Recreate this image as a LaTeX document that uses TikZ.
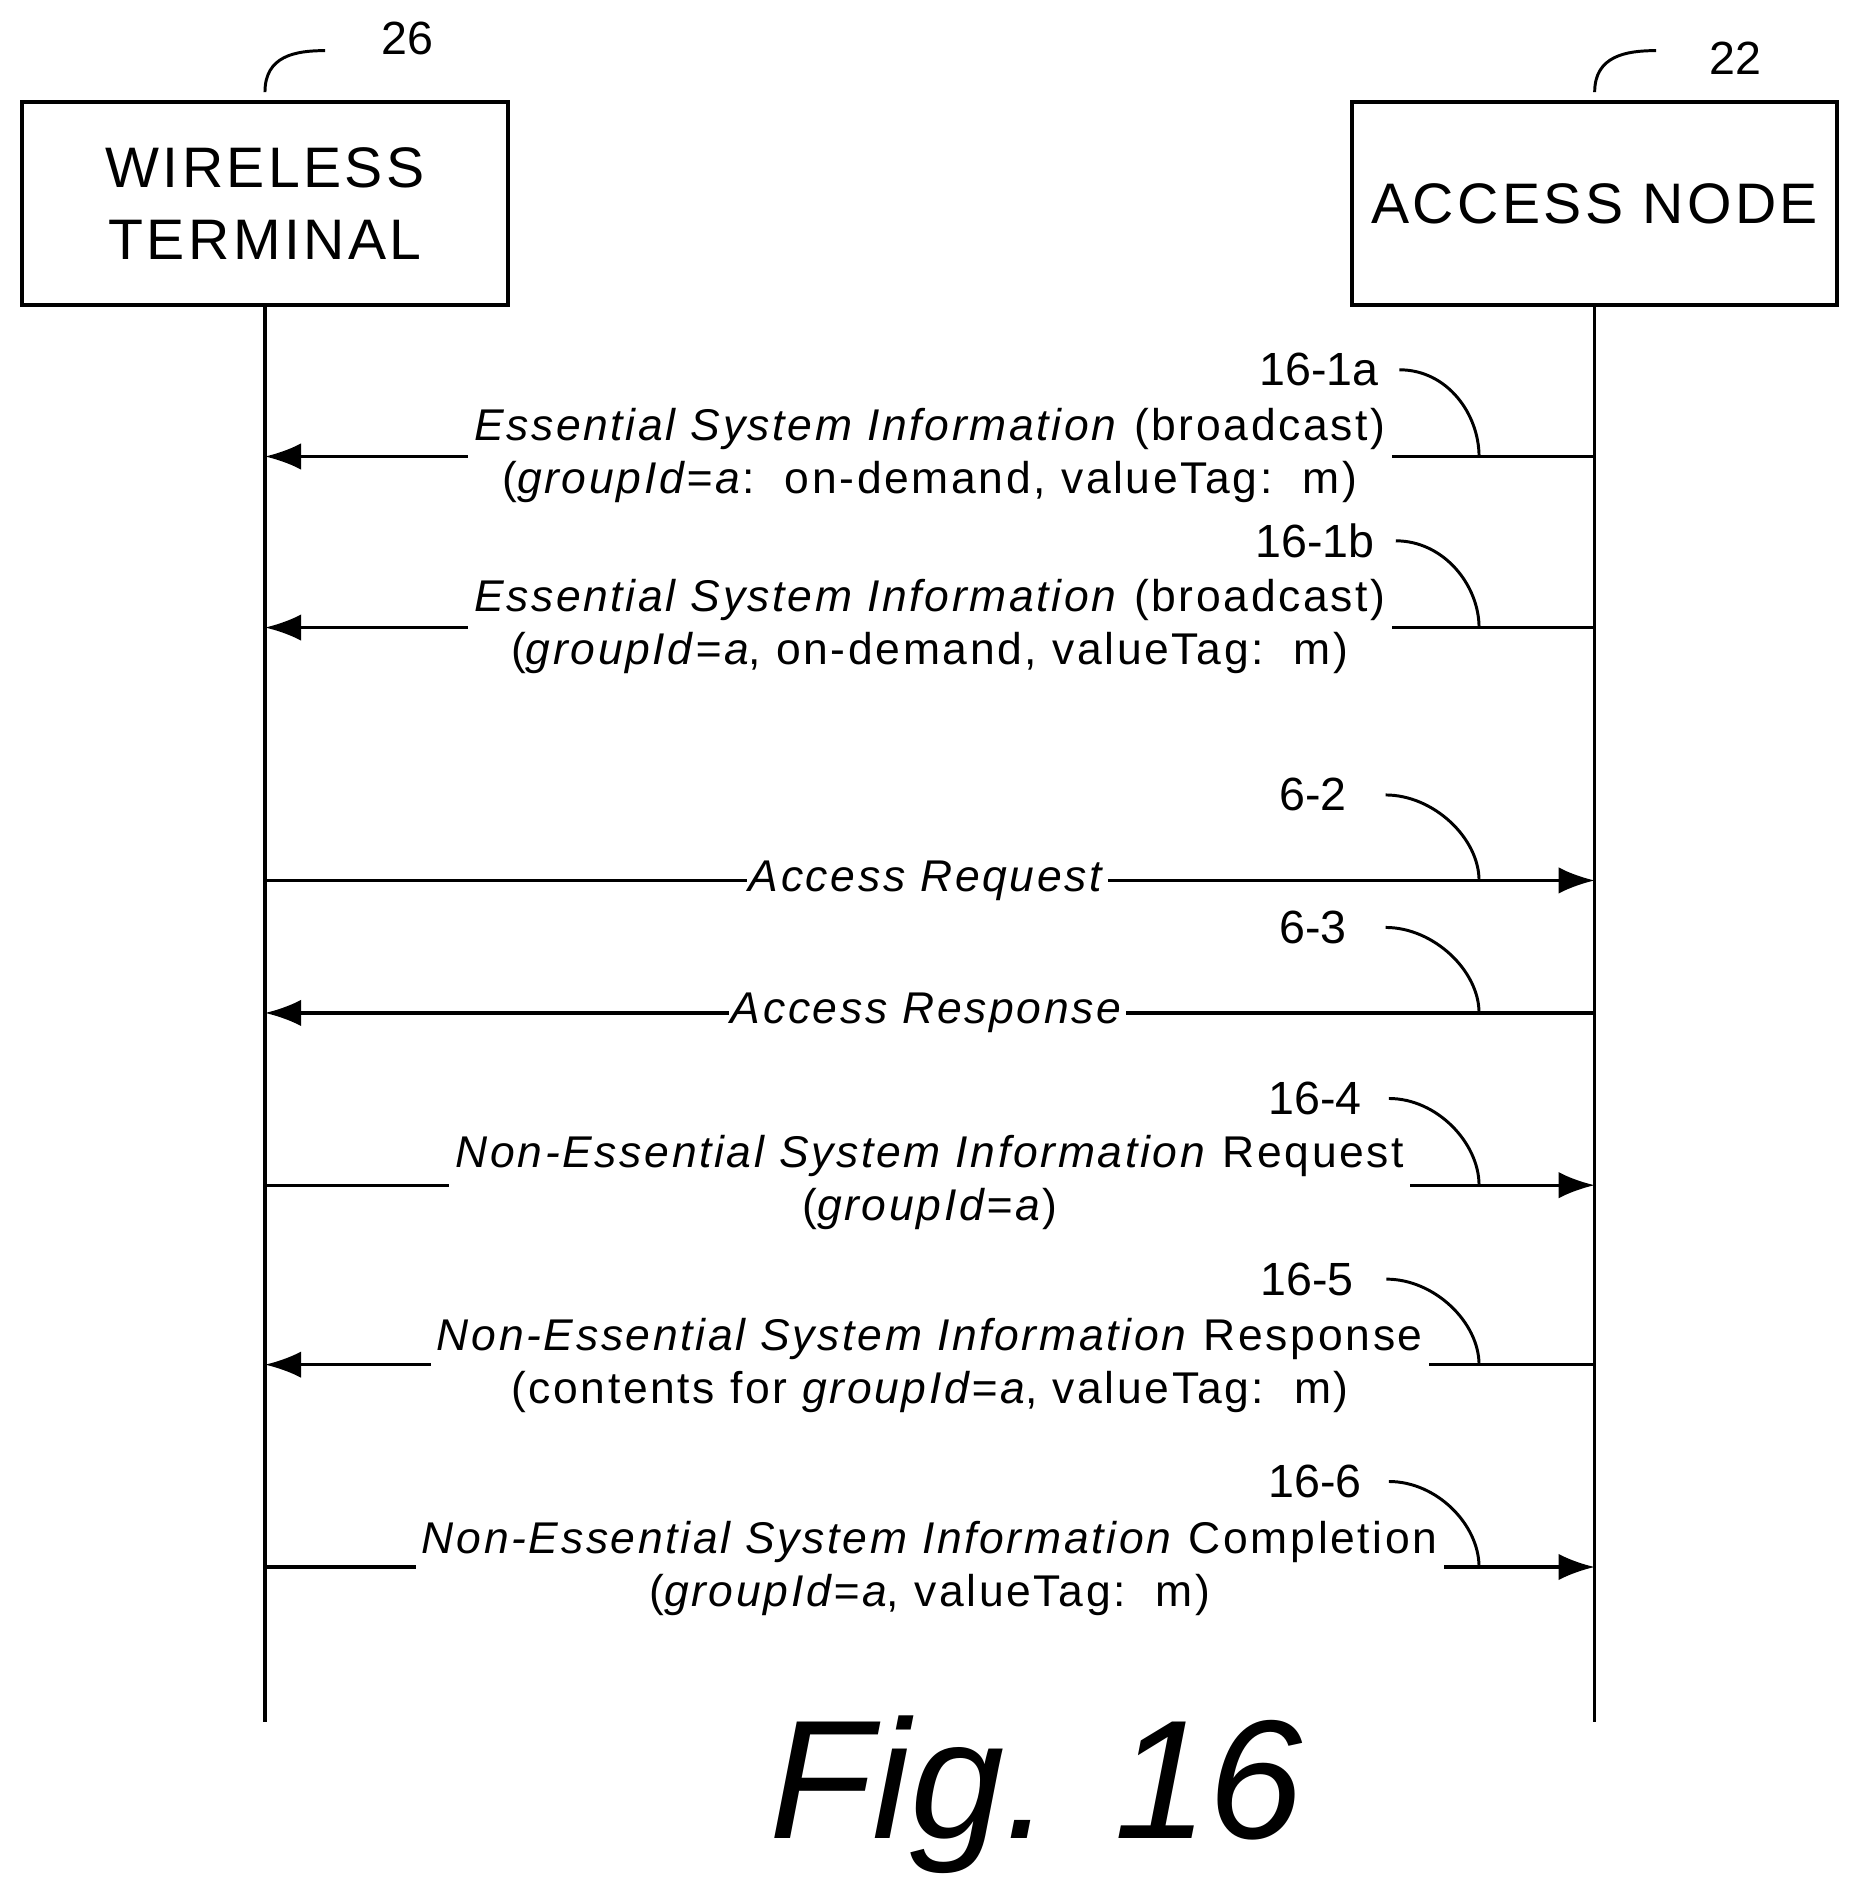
\documentclass[tikz,border=0pt]{standalone}
\usepackage{fontspec}
\setmainfont{Liberation Sans}
\usetikzlibrary{arrows.meta}

\tikzset{
	entity/.style={draw,line width=0.9pt,minimum width=4.03cm,minimum height=1.68cm,align=center,font=\fontsize{13.5}{17}\selectfont\addfontfeatures{LetterSpace=6}},
	lifeline/.style={line width=0.8pt},
	msg/.style={line width=0.8pt,-{Latex[length=3mm,width=2.2mm]}},
	txt/.style={fill=white,align=center,inner sep=1.5pt,font=\fontsize{10.5}{12.5}\selectfont\addfontfeatures{LetterSpace=6}},
	ref/.style={font=\fontsize{11}{13}\selectfont},
	hook/.style={line width=0.7pt}
}

\begin{document}
\begin{tikzpicture}
	\useasboundingbox (0,0) rectangle (15.52,-15.75);
	% entities
	\node[entity] (wt) at (2.20,-1.69) {WIRELESS\\TERMINAL};
	\node[entity] (an) at (13.24,-1.69) {ACCESS NODE};
	\coordinate (wtend) at (2.20,-14.30);
	\coordinate (anend) at (13.24,-14.30);
	\draw[lifeline] (wt.south) -- (wtend);
	\draw[lifeline] (an.south) -- (anend);
	\node[ref] (r26) at (3.38,-0.32) {26};
	\node[ref] (r22) at (14.41,-0.48) {22};
	\draw[hook] (wt.north) ++(0,0.07) .. controls +(0,0.3) and +(-0.25,0) .. (2.70,-0.42);
	\draw[hook] (an.north) ++(0,0.07) .. controls +(0,0.3) and +(-0.25,0) .. (13.75,-0.42);

	% 16-1a
	\coordinate (a1) at (2.20,-3.79); \coordinate (b1) at (13.24,-3.79);
	\draw[msg] (b1) -- (a1);
	\node[txt] (m1) at (7.72,-3.78) {\textit{Essential System Information} (broadcast)\\(\textit{groupId=a}:\ \ on-demand, valueTag:\ \ m)};
	\node[ref] (r1) at (10.95,-3.07) {16-1a};
	\coordinate (h1) at (12.28,-3.79);
	\draw[hook] (r1.east) ++(0.05,0) .. controls +(0.4,0) and +(0,0.35) .. (h1);

	% 16-1b
	\coordinate (a2) at (2.20,-5.21); \coordinate (b2) at (13.24,-5.21);
	\draw[msg] (b2) -- (a2);
	\node[txt] (m2) at (7.72,-5.20) {\textit{Essential System Information} (broadcast)\\(\textit{groupId=a}, on-demand, valueTag:\ \ m)};
	\node[ref] (r2) at (10.92,-4.49) {16-1b};
	\coordinate (h2) at (12.28,-5.21);
	\draw[hook] (r2.east) ++(0.05,0) .. controls +(0.4,0) and +(0,0.35) .. (h2);

	% 6-2
	\coordinate (a3) at (2.20,-7.31); \coordinate (b3) at (13.24,-7.31);
	\draw[msg] (a3) -- (b3);
	\node[txt,inner sep=0.5pt] (m3) at (7.70,-7.31) {\textit{Access Request}};
	\node[ref] (r3) at (10.90,-6.60) {6-2};
	\coordinate (h3) at (12.28,-7.31);
	\draw[hook] (r3.east) ++(0.2,0) .. controls +(0.4,0) and +(0,0.35) .. (h3);

	% 6-3
	\coordinate (a4) at (2.20,-8.41); \coordinate (b4) at (13.24,-8.41);
	\draw[msg] (b4) -- (a4);
	\node[txt,inner sep=0.5pt] (m4) at (7.70,-8.41) {\textit{Access Response}};
	\node[ref] (r4) at (10.90,-7.70) {6-3};
	\coordinate (h4) at (12.28,-8.41);
	\draw[hook] (r4.east) ++(0.2,0) .. controls +(0.4,0) and +(0,0.35) .. (h4);

	% 16-4
	\coordinate (a5) at (2.20,-9.84); \coordinate (b5) at (13.24,-9.84);
	\draw[msg] (a5) -- (b5);
	\node[txt] (m5) at (7.72,-9.82) {\textit{Non-Essential System Information} Request\\(\textit{groupId=a})};
	\node[ref] (r5) at (10.92,-9.12) {16-4};
	\coordinate (h5) at (12.28,-9.84);
	\draw[hook] (r5.east) ++(0.1,0) .. controls +(0.4,0) and +(0,0.35) .. (h5);

	% 16-5
	\coordinate (a6) at (2.20,-11.33); \coordinate (b6) at (13.24,-11.33);
	\draw[msg] (b6) -- (a6);
	\node[txt] (m6) at (7.72,-11.34) {\textit{Non-Essential System Information} Response\\(contents for \textit{groupId=a}, valueTag:\ \ m)};
	\node[ref] (r6) at (10.85,-10.62) {16-5};
	\coordinate (h6) at (12.28,-11.33);
	\draw[hook] (r6.east) ++(0.15,0) .. controls +(0.4,0) and +(0,0.35) .. (h6);

	% 16-6
	\coordinate (a7) at (2.20,-13.01); \coordinate (b7) at (13.24,-13.01);
	\draw[msg] (a7) -- (b7);
	\node[txt] (m7) at (7.72,-13.02) {\textit{Non-Essential System Information} Completion\\(\textit{groupId=a}, valueTag:\ \ m)};
	\node[ref] (r7) at (10.92,-12.30) {16-6};
	\coordinate (h7) at (12.28,-13.01);
	\draw[hook] (r7.east) ++(0.1,0) .. controls +(0.4,0) and +(0,0.35) .. (h7);

	\node[font=\fontsize{40}{44}\selectfont\itshape] (fig) at (8.60,-14.90) {Fig. 16};
\end{tikzpicture}
\end{document}
